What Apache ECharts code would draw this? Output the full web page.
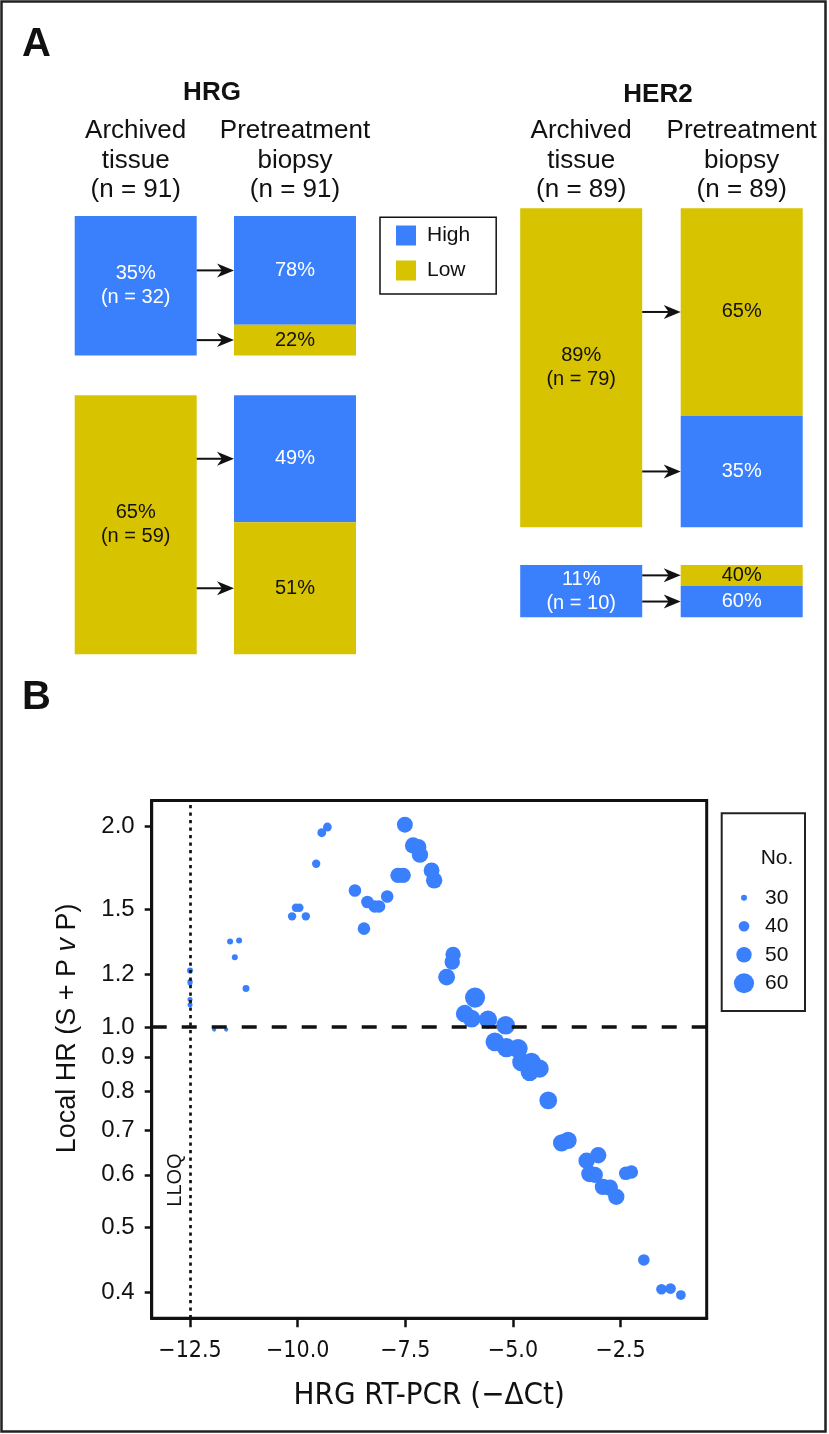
<!DOCTYPE html>
<html>
<head>
<meta charset="utf-8">
<script src="https://cdn.jsdelivr.net/npm/echarts@6/dist/echarts.min.js"></script>
<style>
  html, body { margin: 0; padding: 0; background: #fff; }
  #chart { width: 829px; height: 1434px; }
</style>
</head>
<body>
<div id="chart"></div>
<script>
// ---------------- DATA ----------------
// Panel A: HRG (archived groups listed top to bottom)
const hrgGroups = ['High', 'Low'];
const hrgArchivedPct = [35, 65];
const hrgArchivedN = [32, 59];
const hrgBiopsyOrder = ['High', 'Low'];          // stacking order of biopsy segments
const hrgBiopsyPct = [[78, 22], [49, 51]];
const hrgTotalN = [91, 91];

// Panel A: HER2
const her2Groups = ['Low', 'High'];
const her2ArchivedPct = [89, 11];
const her2ArchivedN = [79, 10];
const her2BiopsyOrder = ['Low', 'High'];
const her2BiopsyPct = [[65, 35], [40, 60]];
const her2TotalN = [89, 89];

const columnNames = ['Archived\ntissue', 'Pretreatment\nbiopsy'];
const statusNames = ['High', 'Low'];

// Panel B: scatter  [HRG RT-PCR (-dCt), local HR, No.]
const scatterX = [
  -12.5, -12.5, -12.5, -12.5, -12.5,
  -11.94, -11.66, -11.57, -11.36, -11.46, -11.2,
  -10.13, -10.04, -9.96, -9.81, -9.57, -9.44, -9.31,
  -8.67, -8.46, -8.38, -8.21, -8.11, -7.92,
  -7.67, -7.55, -7.51, -7.32, -7.20, -7.16, -6.89, -6.83,
  -6.39, -6.41, -6.54, -5.88,
  -6.12, -5.96, -5.58, -5.17, -5.42, -5.15, -4.88, -4.80, -4.57, -4.38, -4.61,
  -4.18, -3.87, -3.72,
  -3.29, -3.02, -3.22, -3.10, -2.91, -2.75, -2.60, -2.38, -2.25,
  -1.96, -1.55, -1.34, -1.10
];
const scatterHR = [
  1.216, 1.171, 1.164, 1.100, 1.080,
  0.991, 0.991, 1.344, 1.349, 1.273, 1.142,
  1.466, 1.510, 1.510, 1.466, 1.758, 1.957, 1.996,
  1.603, 1.405, 1.540, 1.517, 1.517, 1.570,
  1.689, 1.689, 2.012, 1.873, 1.862, 1.814, 1.718, 1.660,
  1.285, 1.252, 1.188, 1.107,
  1.047, 1.029, 1.026, 1.006, 0.950, 0.931, 0.928, 0.886, 0.886, 0.866, 0.856,
  0.776, 0.670, 0.676,
  0.630, 0.642, 0.602, 0.600, 0.5755, 0.574, 0.556, 0.603, 0.606,
  0.447, 0.404, 0.405, 0.396
];
const scatterN = [
  30, 28, 28, 28, 28,
  26, 26, 30, 30, 30, 32,
  35, 35, 35, 35, 35, 36, 36,
  44, 44, 44, 44, 44, 44,
  50, 50, 51, 52, 52, 52, 51, 52,
  50, 50, 53, 60,
  55, 55, 56, 57, 57, 58, 58, 57, 57, 56, 56,
  55, 54, 54,
  52, 52, 53, 52, 52, 52, 52, 46, 46,
  42, 40, 40, 38
];
const xTicks = [-12.5, -10.0, -7.5, -5.0, -2.5];
const yTicks = [0.4, 0.5, 0.6, 0.7, 0.8, 0.9, 1.0, 1.2, 1.5, 2.0];
const sizeLegendN = [30, 40, 50, 60];
const refHR = 1.0;
const lloqX = -12.5;

// ---------------- STYLE / LAYOUT ----------------
const BLUE = '#3a80fd';
const YELLOW = '#d8c300';
const INK = '#111111';
const FONT = '"Liberation Sans", Arial, Helvetica, sans-serif';
const NARROW = '"Liberation Sans Narrow", "Arial Narrow", "DejaVu Sans Condensed", sans-serif';
const BOX_W = 122;
const MIN_BOX = 14.6;   // minimum drawn share so that labels fit
const sizeOf = n => 6 + (n - 30) * 0.47;

function buildPanel(groups, pct, nArr, order, biopsy, gap) {
  const segs = [], arrows = [];
  let y = 0;
  groups.forEach((g, i) => {
    const h = Math.max(pct[i], MIN_BOX);
    segs.push({ col: 0, y0: y, y1: y + h, grp: g, text: pct[i] + '%\n(n = ' + nArr[i] + ')' });
    let yy = y;
    order.forEach((g2, k) => {
      const hh = h * biopsy[i][k] / 100;
      segs.push({ col: 1, y0: yy, y1: yy + hh, grp: g2, text: biopsy[i][k] + '%' });
      arrows.push(yy + hh / 2);
      yy += hh;
    });
    y += h + gap;
  });
  return { segs, arrows, total: y - gap };
}

const hrgPanel = buildPanel(hrgGroups, hrgArchivedPct, hrgArchivedN, hrgBiopsyOrder, hrgBiopsyPct, 10);
const her2Panel = buildPanel(her2Groups, her2ArchivedPct, her2ArchivedN, her2BiopsyOrder, her2BiopsyPct, 10.5);

function boxSeries(panel, grp, idx) {
  const items = panel.segs.filter(s => s.grp === grp);
  const fill = grp === 'High' ? BLUE : YELLOW;
  const txt = grp === 'High' ? '#ffffff' : INK;
  return {
    type: 'custom', name: grp, xAxisIndex: idx, yAxisIndex: idx,
    itemStyle: { color: fill }, silent: true, animation: false,
    data: items.map(s => [s.col, s.y0, s.y1]),
    renderItem: (params, api) => {
      const s = items[params.dataIndex];
      const p0 = api.coord([api.value(0), api.value(1)]);
      const p1 = api.coord([api.value(0), api.value(2)]);
      return {
        type: 'group', children: [
          { type: 'rect', shape: { x: p0[0] - BOX_W / 2, y: p0[1], width: BOX_W, height: p1[1] - p0[1] }, style: { fill: fill } },
          { type: 'text', style: { text: s.text, x: p0[0], y: (p0[1] + p1[1]) / 2, align: 'center', verticalAlign: 'middle',
              fill: txt, fontSize: 20, fontFamily: FONT, lineHeight: 24 } }
        ]
      };
    }
  };
}

function arrowSeries(panel, idx) {
  return {
    type: 'custom', xAxisIndex: idx, yAxisIndex: idx, silent: true, animation: false,
    data: panel.arrows.map(y => [0, y]),
    renderItem: (params, api) => {
      const a = api.coord([0, api.value(1)]);
      const b = api.coord([1, api.value(1)]);
      const x0 = a[0] + BOX_W / 2, x1 = b[0] - BOX_W / 2, y = a[1];
      return {
        type: 'group', children: [
          { type: 'line', shape: { x1: x0, y1: y, x2: x1 - 8, y2: y }, style: { stroke: INK, lineWidth: 2 } },
          { type: 'polygon', shape: { points: [[x1, y], [x1 - 17, y - 7], [x1 - 12, y], [x1 - 17, y + 7]] }, style: { fill: INK } }
        ]
      };
    }
  };
}

function catAxis(idx, totals, margin) {
  return {
    type: 'category', gridIndex: idx, position: 'top',
    data: columnNames.map((c, i) => c + '\n(n = ' + totals[i] + ')'),
    axisLine: { show: false }, axisTick: { show: false }, splitLine: { show: false },
    axisLabel: { interval: 0, fontSize: 26, lineHeight: 29.5, color: INK, fontFamily: FONT, margin: margin }
  };
}
function boxYAxis(idx, total) {
  return { type: 'value', gridIndex: idx, inverse: true, min: 0, max: total, show: false };
}

const scatterData = scatterX.map((x, i) => [x, scatterHR[i], scatterN[i]]);
const fmtX = v => (v < 0 ? '\u2212' : '') + Math.abs(v).toFixed(1);

const option = {
  animation: false,
  backgroundColor: '#ffffff',
  textStyle: { fontFamily: FONT },
  grid: [
    { left: 56.05, top: 216, width: 318.6, height: 438.3 },
    { left: 500.95, top: 208.3, width: 321, height: her2Panel.total * 3.584 },
    { left: 151.7, top: 800.5, width: 555, height: 517.8, show: true, borderColor: INK, borderWidth: 3 },
    { left: 734, top: 883.5, width: 20, height: 114 }
  ],
  legend: {
    data: statusNames, orient: 'vertical', left: 380, top: 217.3,
    icon: 'rect', itemWidth: 20, itemHeight: 20, itemGap: 14,
    borderColor: INK, borderWidth: 1.5, borderRadius: 0,
    padding: [7.7, 26, 13, 16],
    textStyle: { fontSize: 21, color: INK, fontFamily: FONT, lineHeight: 20, padding: [0, 0, 0, 6] },
    selectedMode: false
  },
  xAxis: [
    catAxis(0, hrgTotalN, 11.25),
    catAxis(1, her2TotalN, 3.5),
    {
      type: 'value', gridIndex: 2, min: -13.39, max: -0.5,
      splitLine: { show: false },
      axisLine: { show: true, onZero: false, lineStyle: { color: INK, width: 3 } },
      axisTick: { show: true, length: 9, lineStyle: { color: INK, width: 2.5 }, customValues: xTicks },
      axisLabel: { customValues: xTicks, formatter: fmtX, fontSize: 23, color: INK, fontFamily: NARROW, margin: 21 },
      name: 'HRG RT-PCR (\u2212\u0394Ct)', nameLocation: 'middle', nameGap: 62,
      nameTextStyle: { fontSize: 31, color: INK, fontFamily: NARROW }
    },
    { type: 'category', gridIndex: 3, data: ['No.'], show: false }
  ],
  yAxis: [
    boxYAxis(0, hrgPanel.total),
    boxYAxis(1, her2Panel.total),
    {
      type: 'log', gridIndex: 2, logBase: 10, min: 0.3654, max: 2.1876,
      splitLine: { show: false }, minorTick: { show: false },
      axisLine: { show: true, onZero: false, lineStyle: { color: INK, width: 3 } },
      axisTick: { show: true, length: 7, lineStyle: { color: INK, width: 2.5 }, customValues: yTicks },
      axisLabel: { customValues: yTicks, formatter: v => Number(v).toFixed(1), fontSize: 24, color: INK, fontFamily: FONT, margin: 17 },
      name: 'Local HR (S + P {i|v} P)', nameLocation: 'middle', nameGap: 71,
      nameTextStyle: { fontSize: 27, color: INK, fontFamily: FONT, padding: [0, 0, 0, 62],
        rich: { i: { fontStyle: 'italic', fontSize: 27, color: INK, fontFamily: FONT } } }
    },
    {
      type: 'category', gridIndex: 3, inverse: true, position: 'right',
      data: sizeLegendN.map(String),
      axisLine: { show: false }, axisTick: { show: false },
      axisLabel: { fontSize: 21, color: INK, fontFamily: FONT, margin: 11 }
    }
  ],
  series: [
    boxSeries(hrgPanel, 'High', 0),
    boxSeries(hrgPanel, 'Low', 0),
    arrowSeries(hrgPanel, 0),
    boxSeries(her2Panel, 'Low', 1),
    boxSeries(her2Panel, 'High', 1),
    arrowSeries(her2Panel, 1),
    {
      type: 'scatter', xAxisIndex: 2, yAxisIndex: 2, data: scatterData,
      symbolSize: v => sizeOf(v[2]),
      itemStyle: { color: BLUE, opacity: 1 }, silent: true,
      markLine: {
        silent: true, symbol: 'none', label: { show: false }, animation: false,
        data: [
          { yAxis: refHR, lineStyle: { color: INK, width: 3.5, type: [15, 15] } },
          { xAxis: lloqX, lineStyle: { color: INK, width: 2.7, type: [3.3, 4.2] } }
        ]
      }
    },
    {
      type: 'scatter', xAxisIndex: 3, yAxisIndex: 3,
      data: sizeLegendN.map((n, i) => [0, i, n]),
      symbolSize: v => sizeOf(v[2]),
      itemStyle: { color: BLUE, opacity: 1 }, silent: true
    }
  ],
  graphic: [
    { type: 'rect', shape: { x: 1.5, y: 1.5, width: 824, height: 1430 }, style: { fill: 'none', stroke: '#222', lineWidth: 2.5 }, silent: true },
    { type: 'text', style: { text: 'A', x: 22, y: 45, verticalAlign: 'middle', fontSize: 40, fontWeight: 'bold', fontFamily: FONT, fill: INK } },
    { type: 'text', style: { text: 'B', x: 22, y: 698, verticalAlign: 'middle', fontSize: 40, fontWeight: 'bold', fontFamily: FONT, fill: INK } },
    { type: 'text', style: { text: 'HRG', x: 212, y: 93, align: 'center', verticalAlign: 'middle', fontSize: 26, fontWeight: 'bold', fontFamily: FONT, fill: INK } },
    { type: 'text', style: { text: 'HER2', x: 658, y: 95, align: 'center', verticalAlign: 'middle', fontSize: 26, fontWeight: 'bold', fontFamily: FONT, fill: INK } },
    { type: 'text', rotation: Math.PI / 2, x: 175, y: 1180,
      style: { text: 'LLOQ', align: 'center', verticalAlign: 'middle', fontSize: 20, fontFamily: FONT, fill: INK } },
    { type: 'rect', shape: { x: 721.7, y: 813.3, width: 83.3, height: 197.7 }, style: { fill: 'none', stroke: '#222', lineWidth: 2 }, silent: true },
    { type: 'text', style: { text: 'No.', x: 760.7, y: 858, verticalAlign: 'middle', fontSize: 21, fontFamily: FONT, fill: INK } }
  ]
};

const chart = echarts.init(document.getElementById('chart'), null, { renderer: 'canvas' });
chart.setOption(option);
</script>
</body>
</html>
